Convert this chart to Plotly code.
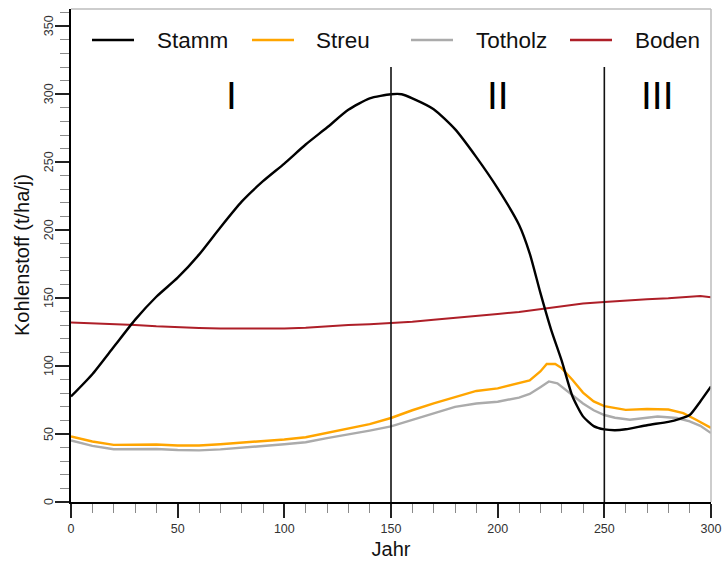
import plotly.graph_objects as go

# ---------------- data ----------------
stamm_years = [0, 10, 20, 30, 40, 50, 60, 70, 80, 90, 100, 110, 120, 130, 140, 150, 155,
               160, 170, 180, 190, 200, 210, 215, 220, 225, 230, 235, 240, 245, 250, 255,
               260, 270, 280, 285, 290, 295, 300]
stamm = [77.6, 94, 114, 134, 151, 165, 182, 202, 221, 236, 249, 263, 275.5, 288.5, 297, 300, 300,
         297, 289, 274.3, 253.7, 230.7, 204, 183, 154, 127, 104, 78, 63, 55.8, 53.4, 52.8,
         53.5, 56.5, 59, 61, 64, 74, 85]

streu_years = [0, 5, 10, 20, 30, 40, 50, 60, 70, 80, 90, 100, 110, 120, 130, 140, 150, 160, 170,
               180, 190, 200, 205, 210, 215, 220, 223, 227, 230, 235, 240, 245, 250, 260, 270,
               280, 287, 293, 300]
streu = [48.2, 46.5, 44.5, 42, 42, 42.3, 41.6, 41.6, 42.5, 43.5, 44.8, 46, 47.6, 51, 54.3, 57.3,
         61.8, 67.5, 72.5, 77.3, 81.7, 83.6, 85.5, 87.7, 89.5, 96, 101.5, 101.5, 98.5, 90, 80.5,
         74, 70.5, 67.8, 68.4, 68, 65.4, 60.5, 54.5]

totholz_years = [0, 5, 10, 20, 30, 40, 50, 60, 70, 80, 90, 100, 110, 120, 130, 140, 150, 160, 170,
                 180, 190, 200, 210, 215, 220, 224, 228, 234, 240, 245, 250, 255, 262, 270, 275,
                 284, 290, 295, 300]
totholz = [45.3, 43.3, 41.3, 38.8, 38.8, 39, 38.3, 38, 38.7, 39.7, 41.2, 42.5, 44, 47, 49.6, 52.5,
           55.6, 60.5, 65.3, 70, 72.5, 73.8, 76.8, 79.5, 84.5, 88.7, 87.3, 80, 72.5, 67.5, 64,
           62, 60.5, 62, 62.9, 61.8, 59.3, 56, 50.7]

boden_years = [0, 10, 20, 30, 40, 50, 60, 70, 80, 90, 100, 110, 120, 130, 140, 150, 160, 170, 180,
               190, 200, 210, 220, 230, 240, 250, 260, 270, 280, 290, 295, 300]
boden = [132, 131.5, 131, 130.3, 129.3, 128.5, 128, 127.6, 127.6, 127.6, 127.6, 128.2, 129.3,
         130.2, 130.8, 131.6, 132.6, 134, 135.3, 136.8, 138.3, 139.8, 141.8, 144, 146, 147.2,
         148.3, 149.2, 149.9, 150.8, 151.5, 150.7]

series_names = ["Stamm", "Streu", "Totholz", "Boden"]
phase_bounds = [150, 250]
phase_labels = ["I", "II", "III"]
phase_label_x = [75, 200, 275]
phase_label_y = 299
phase_line_top = 320

x_ticks = [0, 50, 100, 150, 200, 250, 300]
y_ticks = [0, 50, 100, 150, 200, 250, 300, 350]
x_title = "Jahr"
y_title = "Kohlenstoff (t/ha/j)"

# ---------------- styling ----------------
colors = {"Stamm": "#000000", "Streu": "#FFA500", "Totholz": "#ABABAB", "Boden": "#AE1F28"}
widths = {"Stamm": 2.4, "Streu": 2.4, "Totholz": 2.4, "Boden": 2.0}
shapes_line = {"Stamm": "spline", "Streu": "linear", "Totholz": "linear", "Boden": "linear"}
FONT = "Liberation Sans, Arial, sans-serif"

fig = go.Figure()
data = {
    "Boden": (boden_years, boden),
    "Totholz": (totholz_years, totholz),
    "Streu": (streu_years, streu),
    "Stamm": (stamm_years, stamm),
}
for name in ["Boden", "Totholz", "Streu", "Stamm"]:
    xs, ys = data[name]
    fig.add_trace(go.Scatter(x=xs, y=ys, mode="lines", name=name, showlegend=False,
                             line=dict(color=colors[name], width=widths[name],
                                       shape=shapes_line[name], smoothing=0.6)))

shapes = []
for b in phase_bounds:
    shapes.append(dict(type="line", xref="x", yref="y", x0=b, x1=b, y0=0, y1=phase_line_top,
                       line=dict(color="#111111", width=1.6)))
# light frame top/right
shapes.append(dict(type="line", xref="paper", yref="paper", x0=0, x1=1, y0=1, y1=1,
                   line=dict(color="#BDBDBD", width=1.5)))
shapes.append(dict(type="line", xref="paper", yref="paper", x0=1, x1=1, y0=0, y1=1,
                   line=dict(color="#BDBDBD", width=1.5)))

annotations = []
for lab, lx in zip(phase_labels, phase_label_x):
    annotations.append(dict(x=lx, y=phase_label_y, xref="x", yref="y", text=lab, showarrow=False,
                            font=dict(family=FONT, size=39, color="#000000")))

# rotated y tick labels, placed on the y scale
for v in y_ticks:
    annotations.append(dict(x=0, y=v, xref="paper", yref="y", text=str(v), showarrow=False,
                            textangle=-90, xanchor="center", yanchor="middle", xshift=-22,
                            font=dict(family=FONT, size=12.5, color="#333333")))
# y axis title (rotated)
annotations.append(dict(x=0, y=0.5, xref="paper", yref="paper", text=y_title, showarrow=False,
                        textangle=-90, xanchor="center", yanchor="middle", xshift=-49.5,
                        font=dict(family=FONT, size=20, color="#111111")))

# manual legend (line samples + labels) in paper coordinates
plot_l, plot_w, plot_t, plot_h = 71, 640, 9, 493
leg_line_px = [(92, 134), (252, 294), (411, 453), (570, 612)]
leg_text_px = [155, 314, 474, 633]
leg_y_px = 40
ly = (plot_t + plot_h - leg_y_px) / plot_h
for name, (a, b), tx in zip(series_names, leg_line_px, leg_text_px):
    shapes.append(dict(type="line", xref="paper", yref="paper",
                       x0=(a - plot_l) / plot_w, x1=(b - plot_l) / plot_w, y0=ly, y1=ly,
                       line=dict(color=colors[name], width=2.4)))
    annotations.append(dict(x=(tx - plot_l) / plot_w, y=ly, xref="paper", yref="paper",
                            xanchor="left", yanchor="middle", text=name, showarrow=False,
                            font=dict(family=FONT, size=22.5, color="#111111")))

fig.update_layout(
    width=724, height=562, autosize=False,
    margin=dict(l=71, r=13, t=9, b=60, pad=0),
    paper_bgcolor="white", plot_bgcolor="white",
    shapes=shapes, annotations=annotations,
    font=dict(family=FONT, color="#222222"),
)
fig.update_xaxes(
    range=[0, 300], tickvals=x_ticks, ticktext=[str(v) for v in x_ticks], automargin=False,
    showline=True, linecolor="#000000", linewidth=2, mirror=False,
    ticks="outside", ticklen=14, tickwidth=1.6, tickcolor="#222222",
    tickfont=dict(family=FONT, size=12.5, color="#333333"),
    minor=dict(dtick=10, ticks="outside", ticklen=9, tickwidth=1, tickcolor="#8A8A8A", showgrid=False),
    showgrid=False, zeroline=False,
    title=dict(text=x_title, font=dict(family=FONT, size=20, color="#111111"), standoff=7),
)
fig.update_yaxes(
    range=[0, 362.7], tickvals=y_ticks, showticklabels=False, automargin=False,
    showline=True, linecolor="#000000", linewidth=2, mirror=False,
    ticks="outside", ticklen=14, tickwidth=1.6, tickcolor="#222222",
    minor=dict(dtick=10, ticks="outside", ticklen=9, tickwidth=1, tickcolor="#8A8A8A", showgrid=False),
    showgrid=False, zeroline=False,
)

fig.write_html("out.html", config={"displayModeBar": False},
               post_script="document.body.style.margin='0px';")
